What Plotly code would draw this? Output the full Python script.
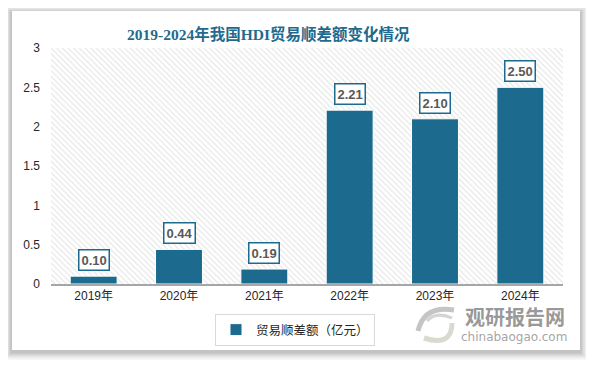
import plotly.graph_objects as go

categories = ["2019年", "2020年", "2021年", "2022年", "2023年", "2024年"]
values = [0.10, 0.44, 0.19, 2.21, 2.10, 2.50]
series_name = "贸易顺差额（亿元）"
title_text = "2019-2024年我国HDI贸易顺差额变化情况"
y_ticks = [0, 0.5, 1, 1.5, 2, 2.5, 3]

BLUE = "#1c6b8e"

# plot area in window pixels: x 51..563, y 48..284 (page body has 8px margin)
def px(x):
    return (x - 51) / 512

def py(y):
    return (284 - y) / 236

fig = go.Figure()

# hatched plot-area background
fig.add_trace(go.Bar(
    x=[0], y=[3], width=[1], xaxis="x", yaxis="y",
    marker=dict(color="white", line=dict(width=0),
                pattern=dict(shape="\\", fgcolor="#d0d0d0", bgcolor="white", size=4, solidity=0.3)),
    showlegend=False, hoverinfo="skip"))

fig.add_trace(go.Bar(
    x=categories, y=values, name=series_name, xaxis="x2", yaxis="y",
    marker=dict(color=BLUE, line=dict(color="white", width=1)),
    width=0.55, showlegend=True))

for c, v in zip(categories, values):
    fig.add_annotation(x=c, y=v, xref="x2", yref="y", text=f"<b>{v:.2f}</b>",
                       showarrow=False, yanchor="bottom", xanchor="center", yshift=5,
                       font=dict(family="Liberation Sans, Arial", size=13, color="#595959"),
                       bgcolor="white", bordercolor=BLUE, borderwidth=1.5, borderpad=2)

shapes = []
# card shadow
for i, op in enumerate([0.03, 0.04, 0.05, 0.06, 0.07]):
    d = 8 - i * 1.6
    shapes.append(dict(type="rect", xref="paper", yref="paper", layer="below",
                       x0=px(12 - d), x1=px(580 + d),
                       y0=py(350 + d + 2), y1=py(11 - d + 2),
                       fillcolor=f"rgba(0,0,0,{op})", line=dict(width=0)))
shapes.append(dict(type="rect", xref="paper", yref="paper", layer="below",
                   x0=px(12), x1=px(580), y0=py(350), y1=py(11),
                   fillcolor="white", line=dict(width=0)))
# watermark swirl
shapes.append(dict(type="path", xref="paper", yref="paper", layer="above",
                   path=f"M {px(418)} {py(331)} Q {px(424)} {py(305)} {px(454)} {py(310)}",
                   line=dict(color="rgba(150,150,150,0.55)", width=5)))
shapes.append(dict(type="path", xref="paper", yref="paper", layer="above",
                   path=f"M {px(427)} {py(321)} Q {px(436)} {py(311)} {px(452)} {py(318)}",
                   line=dict(color="rgba(170,170,170,0.5)", width=3)))
shapes.append(dict(type="path", xref="paper", yref="paper", layer="above",
                   path=f"M {px(424)} {py(338)} Q {px(452)} {py(347)} {px(452)} {py(323)}",
                   line=dict(color="rgba(185,185,170,0.55)", width=5)))

fig.add_annotation(xref="paper", yref="paper", x=px(268), y=py(34),
                   xanchor="center", yanchor="middle",
                   text="<b>" + title_text + "</b>", showarrow=False,
                   font=dict(family="Liberation Serif, Noto Sans CJK SC", size=15.5, color="#1f6b8e"))
fig.add_annotation(xref="paper", yref="paper", x=px(515), y=py(316),
                   xanchor="center", yanchor="middle",
                   text="<b>观研报告网</b>", showarrow=False,
                   font=dict(family="Noto Sans CJK SC", size=20, color="rgba(125,125,125,0.8)"))
fig.add_annotation(xref="paper", yref="paper", x=px(514), y=py(337),
                   xanchor="center", yanchor="middle",
                   text="chinabaogao.com", showarrow=False,
                   font=dict(family="DejaVu Sans", size=12, color="rgba(140,140,140,0.8)"))

fig.update_layout(
    width=586, height=358,
    margin=dict(l=43, r=31, t=40, b=82, autoexpand=False),
    paper_bgcolor="white", plot_bgcolor="rgba(0,0,0,0)",
    barmode="overlay",
    shapes=shapes,
    xaxis=dict(range=[-0.5, 0.5], visible=False, fixedrange=True),
    xaxis2=dict(overlaying="x", side="bottom", type="category",
                showgrid=False, showline=True, linecolor="#a6a6a6", linewidth=1.5,
                ticks="", tickfont=dict(family="Liberation Sans, Noto Sans CJK SC", size=12, color="#262626")),
    yaxis=dict(range=[0, 3], tickvals=y_ticks, ticktext=[f"{t:g}" for t in y_ticks],
               showgrid=False, zeroline=False, ticks="", ticklabelstandoff=10,
               tickfont=dict(family="Liberation Sans, Arial", size=12, color="#262626")),
    legend=dict(orientation="h", x=px(295), xanchor="center", y=py(330), yanchor="middle",
                bordercolor="#d9d9d9", borderwidth=1, bgcolor="white",
                font=dict(family="Noto Sans CJK SC", size=12.5, color="#262626"),
                itemwidth=30),
)

fig.write_html("out.html")
